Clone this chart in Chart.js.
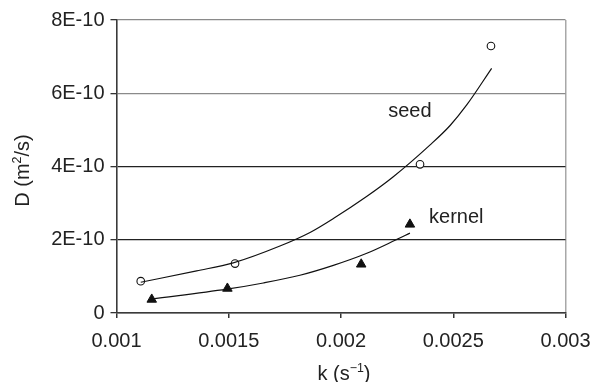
<!DOCTYPE html>
<html><head><meta charset="utf-8">
<script src="https://cdn.jsdelivr.net/npm/chart.js@4/dist/chart.umd.min.js"></script>
<style>html,body{margin:0;padding:0;background:#fff}#wrap{width:596px;height:382px}</style>
</head><body><div id="wrap"><canvas id="c" width="596" height="382"></canvas></div>
<script>
// Measured points
const seedK = [0.001108, 0.001528, 0.002352, 0.002668];
const seedD = [0.87e-10, 1.35e-10, 4.06e-10, 7.29e-10];
const kernelK = [0.001157, 0.001494, 0.00209, 0.002307];
const kernelD = [0.37e-10, 0.67e-10, 1.33e-10, 2.42e-10];
// Trend curves
const seedFitK = [0.001108, 0.001357, 0.00152, 0.001728, 0.001862, 0.001966, 0.002114, 0.002233, 0.002397, 0.002486, 0.00256, 0.002671];
const seedFitD = [0.84e-10, 1.15e-10, 1.37e-10, 1.83e-10, 2.2e-10, 2.58e-10, 3.18e-10, 3.72e-10, 4.59e-10, 5.12e-10, 5.68e-10, 6.68e-10];
const kernelFitK = [0.001157, 0.001491, 0.001654, 0.001817, 0.001966, 0.002115, 0.002241, 0.002307];
const kernelFitD = [0.38e-10, 0.65e-10, 0.82e-10, 1.03e-10, 1.3e-10, 1.63e-10, 1.985e-10, 2.18e-10];
const xTickLabels = ['0.001', '0.0015', '0.002', '0.0025', '0.003'];
const yTickLabels = ['0', '2E-10', '4E-10', '6E-10', '8E-10'];
const seriesLabels = ['seed', 'kernel'];

const FONT = '"Liberation Sans", Arial, Helvetica, sans-serif';
const pts = (xs, ys) => xs.map((x, i) => ({x, y: ys[i]}));

const titlePlugin = {
  id: 'titles',
  afterDraw(chart) {
    const ctx = chart.ctx, ca = chart.chartArea;
    ctx.save();
    ctx.fillStyle = '#222';
    ctx.textBaseline = 'alphabetic';
    function runs(parts, size) {
      let w = 0;
      parts.forEach(p => { ctx.font = (p[1] ? size * 0.62 : size) + 'px ' + FONT; w += ctx.measureText(p[0]).width; });
      return w;
    }
    function drawRuns(parts, size, x0, y0) {
      let x = x0;
      parts.forEach(p => {
        ctx.font = (p[1] ? size * 0.62 : size) + 'px ' + FONT;
        ctx.fillText(p[0], x, p[1] ? y0 - size * 0.42 : y0);
        x += ctx.measureText(p[0]).width;
      });
    }
    const size = 20;
    const xp = [['k (s', false], ['\u22121', true], [')', false]];
    const xw = runs(xp, size);
    drawRuns(xp, size, (ca.left + ca.right) / 2 - xw / 2 + 3, 380);
    const yp = [['D (m', false], ['2', true], ['/s)', false]];
    const yw = runs(yp, size);
    ctx.translate(29, (ca.top + ca.bottom) / 2 + 4);
    ctx.rotate(-Math.PI / 2);
    drawRuns(yp, size, -yw / 2, 0);
    ctx.restore();
    ctx.save();
    ctx.fillStyle = '#222';
    ctx.font = size + 'px ' + FONT;
    ctx.textBaseline = 'middle';
    ctx.textAlign = 'left';
    const sx = chart.scales.x, sy = chart.scales.y;
    ctx.fillText(seriesLabels[0], sx.getPixelForValue(0.00221), sy.getPixelForValue(5.5e-10));
    ctx.fillText(seriesLabels[1], sx.getPixelForValue(0.002392), sy.getPixelForValue(2.62e-10));
    ctx.restore();
  }
};

new Chart(document.getElementById('c'), {
  type: 'scatter',
  data: {
    datasets: [
      {label: 'seed fit', data: pts(seedFitK, seedFitD), showLine: true, borderColor: '#111', borderWidth: 1.2, pointRadius: 0, cubicInterpolationMode: 'monotone', fill: false},
      {label: 'kernel fit', data: pts(kernelFitK, kernelFitD), showLine: true, borderColor: '#111', borderWidth: 1.2, pointRadius: 0, cubicInterpolationMode: 'monotone', fill: false},
      {label: seriesLabels[0], data: pts(seedK, seedD), pointStyle: 'circle', pointRadius: 3.8, backgroundColor: '#fff', borderColor: '#111', borderWidth: 1.1},
      {label: seriesLabels[1], data: pts(kernelK, kernelD), pointStyle: 'triangle', pointRadius: 5.5, backgroundColor: '#111', borderColor: '#111', borderWidth: 1}
    ]
  },
  options: {
    responsive: false,
    animation: false,
    devicePixelRatio: 1,
    layout: {padding: {left: 0, right: 30.5, top: 20, bottom: 0}},
    plugins: {legend: {display: false}, tooltip: {enabled: false}},
    scales: {
      x: {
        type: 'linear', min: 0.001, max: 0.003,
        afterFit(s) { s.height = 69; s.paddingLeft = 0; s.paddingRight = 0; },
        ticks: {stepSize: 0.0005, padding: 11, color: '#222', font: {family: FONT, size: 20}, maxRotation: 0,
          callback: (v, i) => xTickLabels[i]},
        grid: {drawOnChartArea: true, tickLength: 5, tickColor: '#333', lineWidth: 1.5,
          color: c => c.index === 4 ? '#a8a8a8' : 'rgba(0,0,0,0)'},
        border: {color: '#3a3a3a', width: 1.6}
      },
      y: {
        type: 'linear', min: 0, max: 8e-10,
        afterFit(s) { s.width = 116.5; s.paddingTop = 0; s.paddingBottom = 0; },
        ticks: {stepSize: 2e-10, padding: 6, color: '#222', font: {family: FONT, size: 20},
          callback: (v, i) => yTickLabels[i]},
        grid: {tickLength: 6, tickColor: '#333', lineWidth: 1.3,
          color: c => (c.index >= 3 ? '#8a8a8a' : '#222')},
        border: {color: '#3a3a3a', width: 1.6}
      }
    }
  },
  plugins: [titlePlugin]
});
</script></body></html>
